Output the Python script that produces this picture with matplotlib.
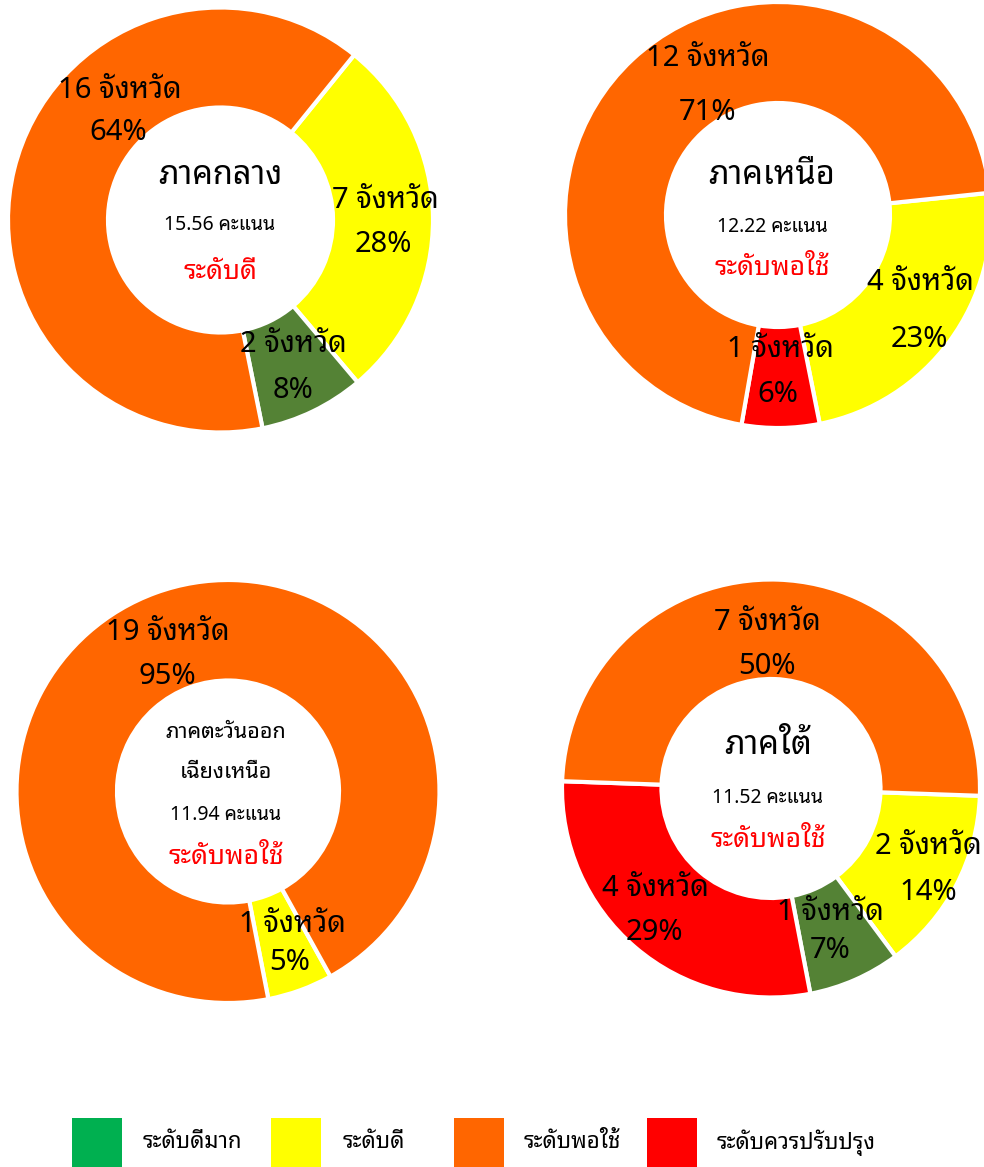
import matplotlib
matplotlib.use("Agg")
import matplotlib.pyplot as plt
from matplotlib import font_manager as fm
from matplotlib.patches import Rectangle

# ---------------- data ----------------
regions = ["ภาคกลาง", "ภาคเหนือ", "ภาคตะวันออก\nเฉียงเหนือ", "ภาคใต้"]
scores = ["15.56 คะแนน", "12.22 คะแนน", "11.94 คะแนน", "11.52 คะแนน"]
levels = ["ระดับดี", "ระดับพอใช้", "ระดับพอใช้", "ระดับพอใช้"]

legend_labels = ["ระดับดีมาก", "ระดับดี", "ระดับพอใช้", "ระดับควรปรับปรุง"]

# slices per region (in drawing order, clockwise)
central_cats = ["ดี", "ดีมาก", "พอใช้"]
central_counts = [7, 2, 16]
central_pcts = ["28%", "8%", "64%"]

north_cats = ["ดี", "ควรปรับปรุง", "พอใช้"]
north_counts = [4, 1, 12]
north_pcts = ["23%", "6%", "71%"]

northeast_cats = ["ดี", "พอใช้"]
northeast_counts = [1, 19]
northeast_pcts = ["5%", "95%"]

south_cats = ["ดี", "ดีมาก", "ควรปรับปรุง", "พอใช้"]
south_counts = [2, 1, 4, 7]
south_pcts = ["14%", "7%", "29%", "50%"]

# ---------------- style ----------------
slice_colors = {"ดีมาก": "#548235", "ดี": "#FFFF00", "พอใช้": "#FF6600", "ควรปรับปรุง": "#FF0000"}
legend_colors = ["#00B050", "#FFFF00", "#FF6600", "#FF0000"]


def pick_font(cands):
    for c in cands:
        try:
            fm.findfont(fm.FontProperties(family=c), fallback_to_default=False)
            return c
        except Exception:
            pass
    return "DejaVu Sans"


THAI = pick_font(["Noto Sans Thai Looped", "IBM Plex Sans Thai Looped", "Noto Sans Thai",
                  "Sarabun", "Krub", "Niramit"])
plt.rcParams["font.family"] = [THAI, "DejaVu Sans"]

W, H = 984, 1167
fig = plt.figure(figsize=(W / 100, H / 100), dpi=100)

# donut geometry (pixel centre, outer radius, inner radius, start angle clockwise from top)
geoms = [
    (220.5, 220, 212.5, 112.5, 39),
    (778, 215, 213, 112, 84),
    (228, 791.5, 211.5, 111, 151),
    (771, 788.5, 209, 109.5, 92),
]

charts = [
    (central_cats, central_counts, central_pcts),
    (north_cats, north_counts, north_pcts),
    (northeast_cats, northeast_counts, northeast_pcts),
    (south_cats, south_counts, south_pcts),
]

# label centres in pixels (first line, second line)
label_pos = [
    [((385, 200), (383, 245)), ((293, 345), (293, 390)), ((120, 90), (118, 133))],
    [((920, 283), (919, 340)), ((780, 350), (778, 395)), ((708, 58), (707, 113))],
    [((292, 925), (290, 963)), ((168, 633), (167, 677))],
    [((928, 847), (928, 892)), ((830, 912), (830, 950)), ((655, 888), (654, 933)), ((767, 622), (767, 667))],
]

center_pos = [
    [(220, 175), (220, 225), (220, 272)],
    [(772, 175), (772, 227), (772, 268)],
    [(226, 733), (226, 815), (226, 857)],
    [(768, 745), (768, 798), (768, 840)],
]


def fx(x):
    return x / W


def fy(y):
    return 1 - y / H


for i, ((cx, cy, R, r, start), (cats, counts, pcts)) in enumerate(zip(geoms, charts)):
    ax = fig.add_axes([fx(cx - R), fy(cy + R), 2 * R / W, 2 * R / H])
    ax.pie(counts, colors=[slice_colors[c] for c in cats], startangle=90 - start,
           counterclock=False, radius=1,
           wedgeprops=dict(width=1 - r / R, edgecolor="white", linewidth=3))
    ax.set_xlim(-1, 1)
    ax.set_ylim(-1, 1)
    ax.set_aspect("auto")
    ax.axis("off")
    for (p1, p2), n, pct in zip(label_pos[i], counts, pcts):
        fig.text(fx(p1[0]), fy(p1[1]), f"{n} จังหวัด", ha="center", va="center",
                 fontsize=21, color="black")
        fig.text(fx(p2[0]), fy(p2[1]), pct, ha="center", va="center",
                 fontsize=21, color="black")
    # centre text
    cp = center_pos[i]
    if i == 2:
        t1, t2 = regions[i].split("\n")
        fig.text(fx(cp[0][0]), fy(cp[0][1]), t1, ha="center", va="center", fontsize=15.5)
        fig.text(fx(cp[0][0]), fy(773), t2, ha="center", va="center", fontsize=15.5)
    else:
        fig.text(fx(cp[0][0]), fy(cp[0][1]), regions[i], ha="center", va="center", fontsize=23.5)
    fig.text(fx(cp[1][0]), fy(cp[1][1]), scores[i], ha="center", va="center", fontsize=14)
    fig.text(fx(cp[2][0]), fy(cp[2][1]), levels[i], ha="center", va="center",
             fontsize=19, color="#FF0000")

# legend
leg_sq_x = [72, 271, 454, 647]
leg_txt_x = [143, 343, 524, 717]
for sx, tx, lab, col in zip(leg_sq_x, leg_txt_x, legend_labels, legend_colors):
    fig.patches.append(Rectangle((fx(sx), fy(1168)), 50 / W, 50 / H,
                                 transform=fig.transFigure, facecolor=col, edgecolor="none"))
    fig.text(fx(tx), fy(1143), lab, ha="left", va="center", fontsize=16)

fig.savefig("out.png", dpi=100)
